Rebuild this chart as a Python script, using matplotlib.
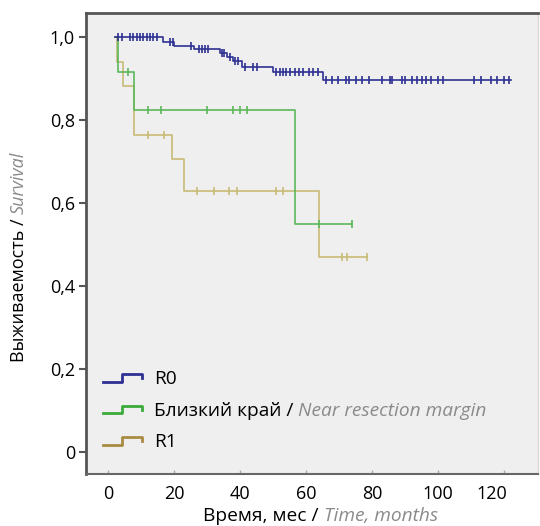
import numpy as np
import matplotlib
matplotlib.use("Agg")
import matplotlib.pyplot as plt
import matplotlib.transforms as mtransforms
from matplotlib.lines import Line2D
from matplotlib.text import Annotation
from matplotlib.legend_handler import HandlerBase

plt.rcParams["font.family"] = ["Open Sans", "DejaVu Sans"]

# Kaplan-Meier step data (time in months, survival fraction)
r0_times = [2, 16.5, 20, 26, 34, 36, 38, 40.5, 50, 65]
r0_surv = [1.0, 0.988, 0.978, 0.971, 0.962, 0.953, 0.943, 0.927, 0.916, 0.897]
r0_end = 122
r0_cens = [3, 4.3, 6.7, 7.6, 8.8, 9.7, 10.6, 11.8, 12.7, 13.6, 14.8, 18.8, 19.7,
           25, 27.5, 28.5, 29.5, 30.4, 34.5, 35.2, 37, 38.5, 39.4, 41.5, 44, 45,
           51, 52, 53, 54, 55, 56.5, 58, 59, 61, 62, 63.6, 66, 68, 69.7, 72, 73,
           75, 77, 79, 83, 85.5, 86, 89, 90, 92, 93.5, 95, 96.5, 98, 100, 101.5,
           111, 113, 116, 118, 120, 121.5]

near_times = [2, 3, 8, 56.5]
near_surv = [1.0, 0.917, 0.825, 0.55]
near_end = 74
near_cens = [6, 12, 16, 30, 38, 40, 42, 64, 74]

r1_times = [2, 2.8, 4.5, 8, 19.5, 23, 64]
r1_surv = [1.0, 0.941, 0.882, 0.765, 0.706, 0.63, 0.47]
r1_end = 78.5
r1_cens = [12, 17, 27, 32, 36.5, 39, 51, 53, 71, 72.5, 78.5]

labels = ["R0", "Близкий край / ", "R1"]
line_colors = ["#2e3192", "#5cb85c", "#c8bb78"]
legend_colors = ["#2e3192", "#3aaa3a", "#a88c42"]

x_ticks = [0, 20, 40, 60, 80, 100, 120]
y_ticks = [0, 0.2, 0.4, 0.6, 0.8, 1.0]
y_ticklabels = ["0", "0,2", "0,4", "0,6", "0,8", "1,0"]

FS_TICK = 13
FS_TEXT = 13.8
FS_YLAB = 13
GREY = "#8a8a8a"

fig = plt.figure(figsize=(5.4, 5.26), dpi=100)
ax = fig.add_axes([86 / 540, 1 - 474 / 526, 452 / 540, 461 / 526])
ax.set_facecolor("#efefef")


def step_value(times, surv, t):
    idx = np.searchsorted(times, t, side="right") - 1
    return np.asarray(surv)[idx]


curves = [
    (r0_times, r0_surv, r0_end, r0_cens),
    (near_times, near_surv, near_end, near_cens),
    (r1_times, r1_surv, r1_end, r1_cens),
]

for (times, surv, end, cens), col, z in zip(curves, line_colors, [4, 3, 2]):
    xs = list(times) + [end]
    ys = list(surv) + [surv[-1]]
    ax.step(xs, ys, where="post", color=col, lw=1.2, zorder=z)
    ax.plot(cens, step_value(times, surv, cens), ls="none", marker="|",
            ms=6, mew=1.2, color=col, zorder=z)


class StepHandler(HandlerBase):
    def __init__(self, color):
        super().__init__()
        self.color = color

    def create_artists(self, legend, orig_handle, xdescent, ydescent,
                       width, height, fontsize, trans):
        lo = height * 0.2
        hi = height * 0.75
        xs = [0, width * 0.5, width * 0.5, width, width]
        ys = [lo, lo, hi, hi, lo + (hi - lo) * 0.45]
        ln = Line2D(xs, ys, color=self.color, lw=2.0, transform=trans)
        return [ln]


proxies = [Line2D([], [], color=c) for c in legend_colors]
leg = ax.legend(proxies, labels, loc="lower left",
                bbox_to_anchor=(0.0, 0.012), frameon=False, fontsize=FS_TEXT,
                handlelength=2.0, handletextpad=0.65, labelspacing=0.7,
                handler_map={p: StepHandler(c) for p, c in zip(proxies, legend_colors)})
ax.annotate("Near resection margin", xy=(1, 0), xycoords=leg.get_texts()[1],
            ha="left", va="bottom", fontsize=FS_TEXT, style="italic",
            color=GREY, zorder=6)

ax.set_xlim(-6.7, 130.3)
ax.set_ylim(-0.053, 1.058)
ax.set_xticks(x_ticks)
ax.set_yticks(y_ticks)
ax.set_yticklabels(y_ticklabels)
ax.tick_params(axis="y", direction="out", length=5, width=1.5, color="#555555",
               labelsize=FS_TICK, pad=3)
ax.tick_params(axis="x", direction="in", length=3, width=1, color="#aaaaaa",
               labelsize=FS_TICK, pad=8)

# the last time label sits a little left of its tick
last = ax.get_xticklabels()[-1]
last.set_transform(last.get_transform() +
                   mtransforms.ScaledTranslation(-12 / 100, 0, fig.dpi_scale_trans))

for side in ["left", "top"]:
    ax.spines[side].set_color("#555555")
    ax.spines[side].set_linewidth(2.0)
ax.spines["bottom"].set_color("#666666")
ax.spines["bottom"].set_linewidth(1.5)
ax.spines["right"].set_color("#d8d8d8")
ax.spines["right"].set_linewidth(1.0)

# axis titles: Russian part in black, English part in grey italic
xl = fig.text(203 / 540, 1 - 525 / 526, "Время, мес / ", fontsize=FS_TEXT,
              ha="left", va="bottom", zorder=1)
fig.add_artist(Annotation(
    "Time, months", xy=(1, 0), xycoords=xl, ha="left", va="bottom",
    fontsize=FS_TEXT, style="italic", color=GREY, zorder=2))

yl = fig.text(10 / 540, 1 - 362 / 526, "Выживаемость / ", fontsize=FS_YLAB,
              rotation=90, ha="left", va="bottom", zorder=1)
fig.add_artist(Annotation(
    "Survival", xy=(1, 1), xycoords=yl, ha="right", va="bottom",
    rotation=90, fontsize=FS_YLAB, style="italic", color=GREY, zorder=2))

fig.savefig("out.png", dpi=100, facecolor="white")
